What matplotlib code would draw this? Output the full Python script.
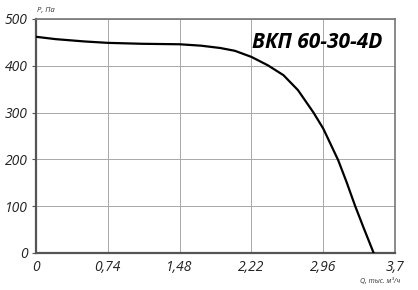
import numpy as np
import matplotlib.pyplot as plt

# fan curve
Q = [0, 0.2, 0.5, 0.74, 1.1, 1.48, 1.7, 1.9, 2.05, 2.22, 2.39, 2.55, 2.7, 2.86, 2.96, 3.04, 3.115, 3.2, 3.29, 3.38, 3.48]
P = [462, 457, 452, 449, 447, 446, 443, 438, 432, 419, 401, 380, 348, 300, 266, 231, 198, 152, 100, 52, 0]

x_ticks = [0, 0.74, 1.48, 2.22, 2.96, 3.7]
x_labels = ['0', '0,74', '1,48', '2,22', '2,96', '3,7']
y_ticks = [0, 100, 200, 300, 400, 500]
title = 'ВКП 60-30-4D'

plt.rcParams['font.family'] = ['Open Sans', 'DejaVu Sans']

fig = plt.figure(figsize=(4.18, 2.9), dpi=100)
ax = fig.add_axes([0.0861, 0.1276, 0.8589, 0.8069])

ax.plot(Q, P, color='black', lw=1.6, zorder=3, solid_joinstyle='round')

ax.set_xlim(0, 3.7)
ax.set_ylim(0, 500)
ax.set_xticks(x_ticks)
ax.set_xticklabels(x_labels)
ax.set_yticks(y_ticks)
ax.grid(True, color='#a8a8a8', lw=0.7)

for lab in ax.get_xticklabels() + ax.get_yticklabels():
    lab.set_fontstyle('italic')
    lab.set_fontsize(10)
    lab.set_color('#222222')

ax.tick_params(axis='y', length=3, width=0.8, color='#555555', pad=3)
ax.tick_params(axis='x', length=0, pad=5)

for s in ['left', 'bottom']:
    ax.spines[s].set_linewidth(1.6)
    ax.spines[s].set_color('#555555')
for s in ['top', 'right']:
    ax.spines[s].set_linewidth(1.2)
    ax.spines[s].set_color('#777777')

ax.text(0.965, 0.9, title, transform=ax.transAxes, ha='right', va='center',
        fontsize=15, fontweight='bold', fontstyle='italic', color='black')

fig.text(0.089, 0.965, 'P, Па', fontsize=5.5, fontstyle='italic', color='#333333',
         ha='left', va='center')
fig.text(0.957, 0.03, 'Q, тыс. м³/ч', fontsize=5, fontstyle='italic', color='#333333',
         ha='right', va='center')

fig.savefig('out.png', dpi=100)
